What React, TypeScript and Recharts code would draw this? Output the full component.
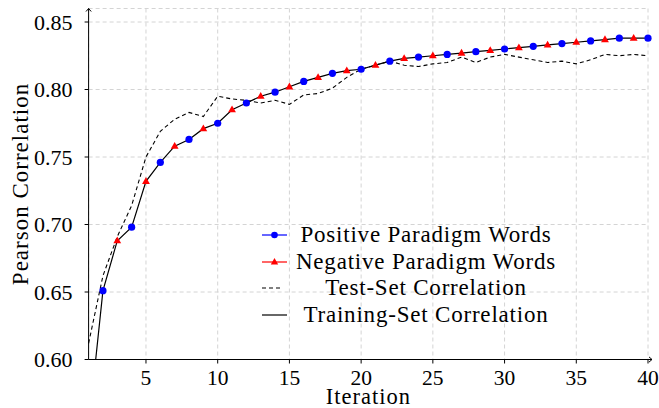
import {
  CartesianGrid,
  Legend,
  Line,
  LineChart,
  ReferenceDot,
  XAxis,
  YAxis,
} from 'recharts'

const ITERATIONS = [
  1, 2, 3, 4, 5, 6, 7, 8, 9, 10, 11, 12, 13, 14, 15, 16, 17, 18, 19, 20, 21,
  22, 23, 24, 25, 26, 27, 28, 29, 30, 31, 32, 33, 34, 35, 36, 37, 38, 39, 40,
]
const TRAINING_SET = [
  0.55, 0.651, 0.688, 0.698, 0.732, 0.746, 0.758, 0.763, 0.771, 0.775, 0.785,
  0.79, 0.795, 0.798, 0.802, 0.806, 0.809, 0.812, 0.814, 0.815, 0.818, 0.821,
  0.823, 0.824, 0.825, 0.826, 0.827, 0.828, 0.829, 0.83, 0.831, 0.832, 0.833,
  0.834, 0.835, 0.836, 0.837, 0.838, 0.838, 0.838,
]
const TEST_SET = [
  0.612, 0.662, 0.691, 0.714, 0.75, 0.769, 0.778, 0.783, 0.78, 0.795, 0.793,
  0.792, 0.79, 0.792, 0.789, 0.796, 0.797, 0.801, 0.809, 0.815, 0.818, 0.821,
  0.818, 0.817, 0.819, 0.82, 0.824, 0.82, 0.824, 0.826, 0.824, 0.822, 0.82,
  0.821, 0.819, 0.822, 0.826, 0.825, 0.826, 0.825,
]
const POSITIVE_ITERS = [
  2, 4, 6, 8, 10, 12, 14, 16, 18, 20, 22, 24, 26, 28, 30, 32, 34, 36, 38, 40,
]
const POSITIVE_WORDS = [
  0.651, 0.698, 0.746, 0.763, 0.775, 0.79, 0.798, 0.806, 0.812, 0.815, 0.821,
  0.824, 0.826, 0.828, 0.83, 0.832, 0.834, 0.836, 0.838, 0.838,
]
const NEGATIVE_ITERS = [
  3, 5, 7, 9, 11, 13, 15, 17, 19, 21, 23, 25, 27, 29, 31, 33, 35, 37, 39,
]
const NEGATIVE_WORDS = [
  0.688, 0.732, 0.758, 0.771, 0.785, 0.795, 0.802, 0.809, 0.814, 0.818, 0.823,
  0.825, 0.827, 0.829, 0.831, 0.833, 0.835, 0.837, 0.838,
]
const X_TICKS = [5, 10, 15, 20, 25, 30, 35, 40]
const Y_TICKS = [0.6, 0.65, 0.7, 0.75, 0.8, 0.85]

const FONT = "'Liberation Serif', 'Times New Roman', 'DejaVu Serif', serif"

const rows = ITERATIONS.map((iteration, i) => ({
  iteration,
  training: TRAINING_SET[i],
  test: TEST_SET[i],
}))
const positiveRows = POSITIVE_ITERS.map((iteration, i) => ({
  iteration,
  positive: POSITIVE_WORDS[i],
}))
const negativeRows = NEGATIVE_ITERS.map((iteration, i) => ({
  iteration,
  negative: NEGATIVE_WORDS[i],
}))

function Triangle(props: any) {
  const { cx, cy, index } = props
  if (cx == null || cy == null) return <g key={`t-${index}`} />
  return (
    <path
      key={`t-${index}`}
      d={`M${cx},${cy - 4.2} L${cx + 3.9},${cy + 2.6} L${cx - 3.9},${cy + 2.6} Z`}
      fill='#ff0000'
    />
  )
}

function RightArrow(props: any) {
  const { cx, cy } = props
  return (
    <g stroke='#000' fill='none' strokeWidth={1}>
      <line x1={cx} y1={cy} x2={cx + 4} y2={cy} />
      <path d={`M${cx + 1},${cy - 2.6} L${cx + 4},${cy} L${cx + 1},${cy + 2.6}`} />
    </g>
  )
}

function TopArrow(props: any) {
  const { cx, cy } = props
  return (
    <path
      d={`M${cx - 2.6},${cy + 3} L${cx},${cy} L${cx + 2.6},${cy + 3}`}
      stroke='#000'
      fill='none'
      strokeWidth={1}
    />
  )
}

function LegendIcon({ kind }: { kind: string }) {
  return (
    <svg width={32} height={26} style={{ flex: 'none' }}>
      {kind === 'pos' && (
        <g>
          <line x1={4} y1={13} x2={29} y2={13} stroke='#0000ff' strokeWidth={1.2} />
          <circle cx={16.5} cy={13} r={3.3} fill='#0000ff' />
        </g>
      )}
      {kind === 'neg' && (
        <g>
          <line x1={4} y1={13} x2={29} y2={13} stroke='#ff0000' strokeWidth={1.2} />
          <path d='M16.5,9 L20.2,15.4 L12.8,15.4 Z' fill='#ff0000' />
        </g>
      )}
      {kind === 'test' && (
        <line
          x1={4}
          y1={13}
          x2={25}
          y2={13}
          stroke='#000'
          strokeWidth={1.1}
          strokeDasharray='4 3'
        />
      )}
      {kind === 'train' && (
        <line x1={4} y1={13} x2={29} y2={13} stroke='#000' strokeWidth={1.2} />
      )}
    </svg>
  )
}

const LEGEND_ITEMS = [
  { kind: 'pos', label: 'Positive Paradigm Words' },
  { kind: 'neg', label: 'Negative Paradigm Words' },
  { kind: 'test', label: 'Test-Set Correlation' },
  { kind: 'train', label: 'Training-Set Correlation' },
]

function renderLegend() {
  return (
    <div style={{ fontFamily: FONT }}>
      {LEGEND_ITEMS.map((item) => (
        <div
          key={item.kind}
          style={{ display: 'flex', alignItems: 'center', height: 26.5 }}
        >
          <LegendIcon kind={item.kind} />
          <span
            style={{
              width: 272,
              textAlign: 'center',
              fontSize: 23,
              letterSpacing: 0.8,
              lineHeight: '26px',
              color: '#000',
              whiteSpace: 'nowrap',
              fontFamily: FONT,
            }}
          >
            {item.label}
          </span>
        </div>
      ))}
    </div>
  )
}

export default function App() {
  return (
    <div
      style={{
        position: 'absolute',
        left: 0,
        top: 0,
        background: '#fff',
        fontFamily: FONT,
      }}
    >
      <LineChart
        width={659}
        height={408}
        data={rows}
        margin={{ top: 8.5, right: 11, left: 0, bottom: 0 }}
        style={{ fontFamily: FONT }}
      >
        <CartesianGrid stroke='#d4d4d4' strokeDasharray='4 3' strokeWidth={1} />
        <XAxis
          dataKey='iteration'
          type='number'
          domain={[1, 40]}
          ticks={X_TICKS}
          height={48.5}
          tickSize={4}
          tickMargin={6}
          axisLine={{ stroke: '#000', strokeWidth: 1 }}
          tickLine={{ stroke: '#000' }}
          tick={{ fill: '#000', fontSize: 21.5, fontFamily: FONT }}
          label={{
            value: 'Iteration',
            position: 'insideBottom',
            offset: 4,
            fill: '#000',
            fontSize: 22.5,
            fontFamily: FONT,
            letterSpacing: 1,
          }}
        />
        <YAxis
          type='number'
          domain={[0.6, 0.86]}
          allowDataOverflow
          ticks={Y_TICKS}
          width={88.6}
          tickSize={4}
          tickMargin={12}
          tickFormatter={(v: number) => v.toFixed(2)}
          axisLine={{ stroke: '#000', strokeWidth: 1 }}
          tickLine={{ stroke: '#000' }}
          tick={{ fill: '#000', fontSize: 22, fontFamily: FONT }}
          label={{
            value: 'Pearson Correlation',
            angle: -90,
            position: 'insideLeft',
            content: ({ viewBox }: any) => (
              <text
                x={28}
                y={viewBox.y + viewBox.height / 2}
                transform={`rotate(-90, 28, ${viewBox.y + viewBox.height / 2})`}
                textAnchor='middle'
                fill='#000'
                fontSize={23}
                letterSpacing={1}
                fontFamily={FONT}
              >
                Pearson Correlation
              </text>
            ),
          }}
        />
        <Line
          dataKey='training'
          stroke='#000'
          strokeWidth={1.2}
          dot={false}
          activeDot={false}
          isAnimationActive={false}
        />
        <Line
          dataKey='test'
          stroke='#000'
          strokeWidth={1.1}
          strokeDasharray='4 3'
          dot={false}
          activeDot={false}
          isAnimationActive={false}
        />
        <Line
          data={positiveRows}
          dataKey='positive'
          stroke='none'
          dot={{ r: 3.6, fill: '#0000ff', stroke: 'none', clipDot: false }}
          activeDot={false}
          isAnimationActive={false}
        />
        <Line
          data={negativeRows}
          dataKey='negative'
          stroke='none'
          dot={(p: any) => <Triangle {...p} />}
          activeDot={false}
          isAnimationActive={false}
        />
        <ReferenceDot x={40} y={0.6} ifOverflow='visible' shape={RightArrow} />
        <ReferenceDot x={1} y={0.86} ifOverflow='visible' shape={TopArrow} />
        <Legend
          layout='vertical'
          align='center'
          verticalAlign='middle'
          content={renderLegend}
          wrapperStyle={{ position: 'absolute', left: 258, top: 222, width: 310 }}
        />
      </LineChart>
    </div>
  )
}
